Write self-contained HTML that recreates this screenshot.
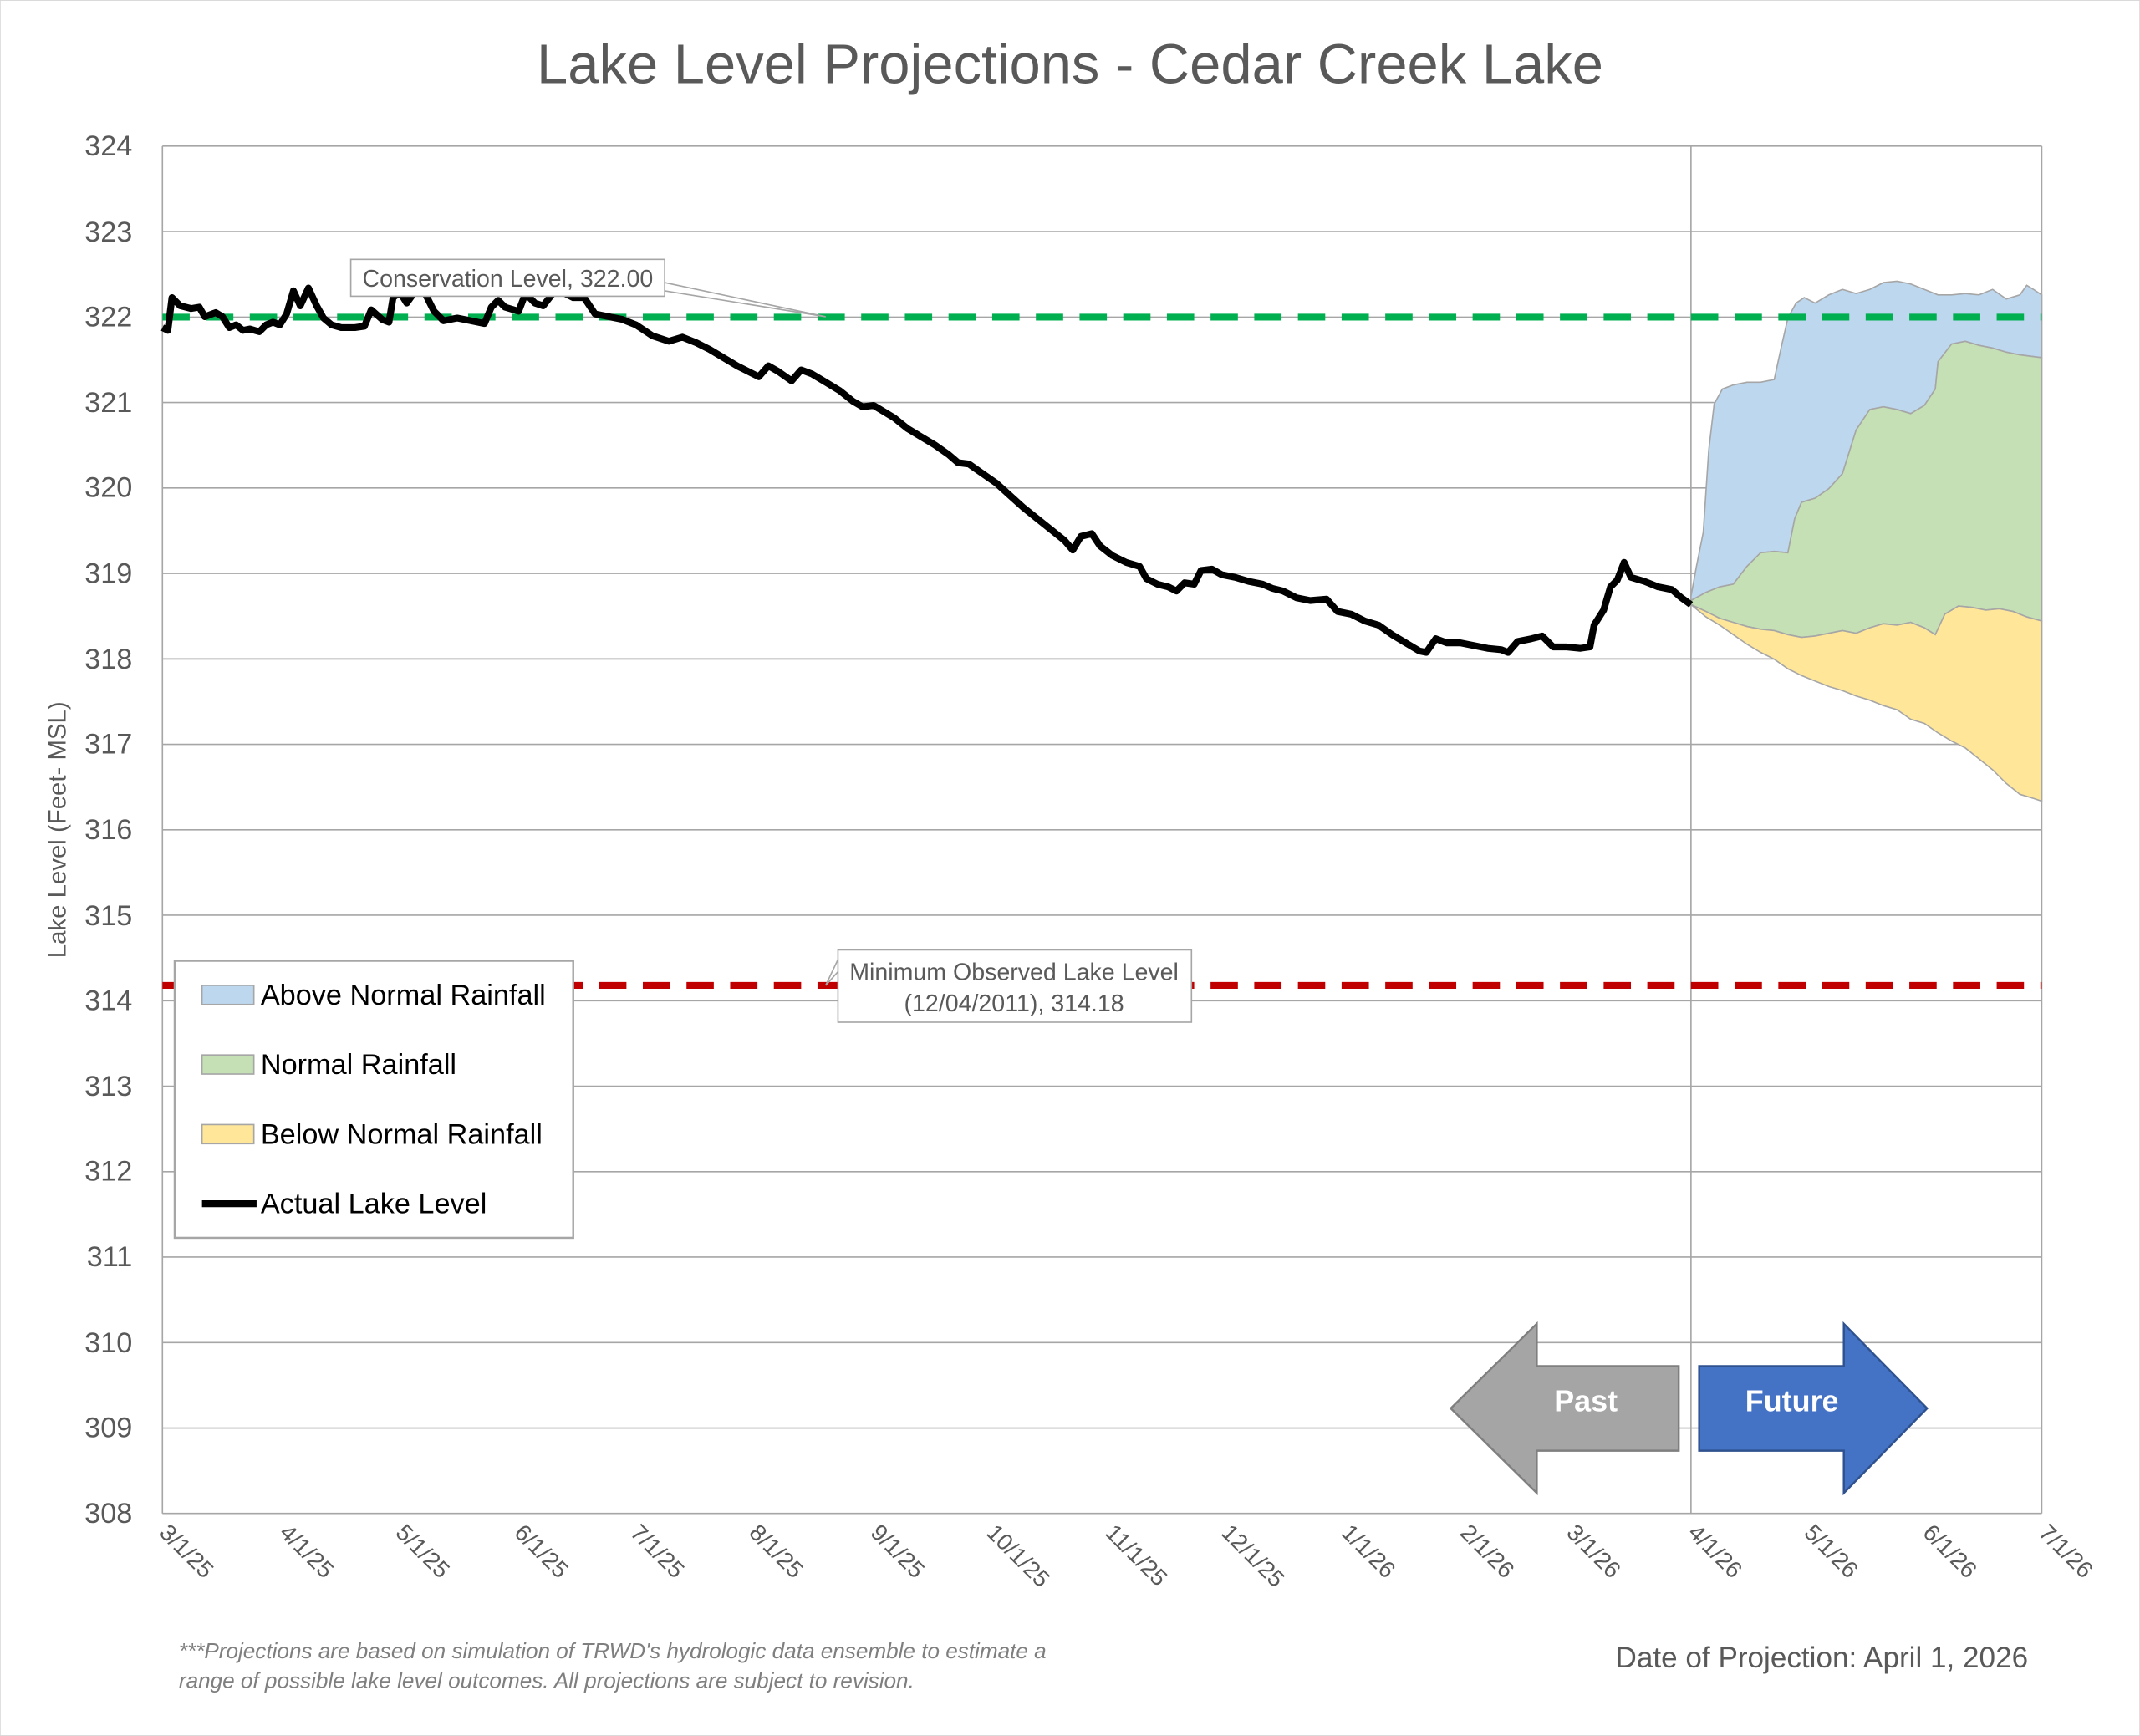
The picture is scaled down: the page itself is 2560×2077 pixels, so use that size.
<!DOCTYPE html>
<html><head><meta charset="utf-8"><style>
html,body{margin:0;padding:0;background:#fff}
svg{display:block}
text{font-family:"Liberation Sans",sans-serif}
</style></head><body>
<svg width="2560" height="2077" viewBox="0 0 1568 1272" xmlns="http://www.w3.org/2000/svg">
<rect x="0" y="0" width="1568" height="1272" fill="#fff" stroke="#d9d9d9" stroke-width="1"/>
<text x="784" y="61" text-anchor="middle" font-size="41" fill="#595959">Lake Level Projections - Cedar Creek Lake</text>
<g stroke="#a6a6a6" stroke-width="1">
<line x1="119" y1="107" x2="1496" y2="107"/><line x1="119" y1="169.6" x2="1496" y2="169.6"/><line x1="119" y1="232.3" x2="1496" y2="232.3"/><line x1="119" y1="294.9" x2="1496" y2="294.9"/><line x1="119" y1="357.5" x2="1496" y2="357.5"/><line x1="119" y1="420.1" x2="1496" y2="420.1"/><line x1="119" y1="482.8" x2="1496" y2="482.8"/><line x1="119" y1="545.4" x2="1496" y2="545.4"/><line x1="119" y1="608" x2="1496" y2="608"/><line x1="119" y1="670.6" x2="1496" y2="670.6"/><line x1="119" y1="733.3" x2="1496" y2="733.3"/><line x1="119" y1="795.9" x2="1496" y2="795.9"/><line x1="119" y1="858.5" x2="1496" y2="858.5"/><line x1="119" y1="921.1" x2="1496" y2="921.1"/><line x1="119" y1="983.8" x2="1496" y2="983.8"/><line x1="119" y1="1046.4" x2="1496" y2="1046.4"/><line x1="119" y1="1109" x2="1496" y2="1109"/>
<line x1="119" y1="107" x2="119" y2="1109"/><line x1="1496" y1="107" x2="1496" y2="1109"/><line x1="1239" y1="107" x2="1239" y2="1109"/>
</g>
<g font-size="21" fill="#595959" text-anchor="end">
<text x="97" y="114">324</text><text x="97" y="177">323</text><text x="97" y="239">322</text><text x="97" y="302">321</text><text x="97" y="364">320</text><text x="97" y="427">319</text><text x="97" y="490">318</text><text x="97" y="552">317</text><text x="97" y="615">316</text><text x="97" y="678">315</text><text x="97" y="740">314</text><text x="97" y="803">313</text><text x="97" y="865">312</text><text x="97" y="928">311</text><text x="97" y="991">310</text><text x="97" y="1053">309</text><text x="97" y="1116">308</text>
</g>
<text transform="translate(48,608) rotate(-90)" text-anchor="middle" font-size="18" fill="#595959">Lake Level (Feet- MSL)</text>
<g font-size="17" fill="#595959">
<text transform="translate(116,1124) rotate(45)">3/1/25</text>
<text transform="translate(204,1124) rotate(45)">4/1/25</text>
<text transform="translate(289,1124) rotate(45)">5/1/25</text>
<text transform="translate(376,1124) rotate(45)">6/1/25</text>
<text transform="translate(461,1124) rotate(45)">7/1/25</text>
<text transform="translate(548,1124) rotate(45)">8/1/25</text>
<text transform="translate(637,1124) rotate(45)">9/1/25</text>
<text transform="translate(722,1124) rotate(45)">10/1/25</text>
<text transform="translate(809,1124) rotate(45)">11/1/25</text>
<text transform="translate(894,1124) rotate(45)">12/1/25</text>
<text transform="translate(982,1124) rotate(45)">1/1/26</text>
<text transform="translate(1069,1124) rotate(45)">2/1/26</text>
<text transform="translate(1147,1124) rotate(45)">3/1/26</text>
<text transform="translate(1236,1124) rotate(45)">4/1/26</text>
<text transform="translate(1321,1124) rotate(45)">5/1/26</text>
<text transform="translate(1408,1124) rotate(45)">6/1/26</text>
<text transform="translate(1493,1124) rotate(45)">7/1/26</text>
</g>
<polygon fill="#bdd7ee" stroke="#a6a6a6" stroke-width="1" points="1239,437 1243,415 1248,390 1252,330 1256,296 1262,285 1270,282 1280,280 1290,280 1300,278 1305,255 1310,233 1316,222 1322,218 1330,222 1340,216 1350,212 1360,215 1370,212 1380,207 1390,206 1400,208 1410,212 1420,216 1430,216 1440,215 1450,216 1460,212 1470,219 1480,216 1485,209 1490,212 1496,216 1496,262 1480,260 1470,258 1460,255 1450,253 1440,250 1430,252 1420,265 1418,285 1410,297 1400,303 1390,300 1380,298 1370,300 1360,315 1350,347 1340,358 1330,365 1320,368 1315,380 1310,405 1300,404 1290,405 1280,415 1270,428 1260,430 1250,434 1239,440"/>
<polygon fill="#c5e0b4" stroke="#a6a6a6" stroke-width="1" points="1239,440 1250,434 1260,430 1270,428 1280,415 1290,405 1300,404 1310,405 1315,380 1320,368 1330,365 1340,358 1350,347 1360,315 1370,300 1380,298 1390,300 1400,303 1410,297 1418,285 1420,265 1430,252 1440,250 1450,253 1460,255 1470,258 1480,260 1496,262 1496,455 1485,452 1475,448 1465,446 1455,447 1445,445 1435,444 1425,450 1418,465 1410,460 1400,456 1390,458 1380,457 1370,460 1360,464 1350,462 1340,464 1330,466 1320,467 1310,465 1300,462 1290,461 1280,459 1270,456 1260,453 1250,448 1239,443"/>
<polygon fill="#ffe699" stroke="#a6a6a6" stroke-width="1" points="1239,443 1250,448 1260,453 1270,456 1280,459 1290,461 1300,462 1310,465 1320,467 1330,466 1340,464 1350,462 1360,464 1370,460 1380,457 1390,458 1400,456 1410,460 1418,465 1425,450 1435,444 1445,445 1455,447 1465,446 1475,448 1485,452 1496,455 1496,587 1490,585 1480,582 1470,574 1460,564 1450,556 1440,548 1430,543 1420,537 1410,530 1400,527 1390,520 1380,517 1370,513 1360,510 1350,506 1340,503 1330,499 1320,495 1310,490 1300,483 1290,478 1280,472 1270,465 1260,458 1250,452 1239,443"/>
<line x1="119" y1="232.3" x2="1496" y2="232.3" stroke="#00b050" stroke-width="5" stroke-dasharray="20,12"/>
<line x1="119" y1="722" x2="1496" y2="722" stroke="#c00000" stroke-width="5" stroke-dasharray="20,12"/>
<polyline fill="none" stroke="#000" stroke-width="5" stroke-linejoin="round" points="119,240 123,242 126,218 132,224 140,226 146,225 150,232 158,229 163,232 168,240 173,238 178,242 183,241 190,243 195,238 200,236 205,238 210,230 215,213 220,224 226,211 232,224 237,233 243,238 250,240 260,240 267,239 272,227 280,234 285,236 288,218 293,214 298,222 303,215 310,212 318,228 325,235 335,233 345,235 355,237 360,225 365,220 370,225 380,228 385,215 392,222 398,224 405,215 410,213 420,218 428,218 436,230 446,232 456,234 466,238 478,246 490,250 500,247 510,251 520,256 530,262 540,268 550,273 556,276 563,268 570,272 580,279 587,271 595,274 605,280 615,286 625,294 632,298 640,297 645,300 655,306 665,314 675,320 685,326 695,333 702,339 710,340 720,347 730,354 740,363 750,372 760,380 770,388 780,396 786,403 792,393 800,391 806,400 815,407 825,412 835,415 840,424 848,428 856,430 862,433 868,427 875,428 880,418 888,417 895,421 905,423 915,426 925,428 932,431 940,433 950,438 960,440 972,439 980,448 990,450 1000,455 1010,458 1020,465 1030,471 1040,477 1045,478 1052,468 1060,471 1070,471 1080,473 1090,475 1100,476 1105,478 1112,470 1122,468 1130,466 1138,474 1148,474 1158,475 1165,474 1168,458 1175,447 1180,430 1185,425 1190,412 1195,423 1205,426 1215,430 1225,432 1232,438 1239,443"/>
<polyline points="487,207 605,232 487,213" fill="#fff" stroke="#a6a6a6" stroke-width="1"/>
<rect x="257" y="190" width="230" height="27" fill="#fff" stroke="#a6a6a6" stroke-width="1"/>
<text x="372" y="210" text-anchor="middle" font-size="17.5" fill="#595959">Conservation Level, 322.00</text>
<polyline points="614,703 605,722 614,712" fill="#fff" stroke="#a6a6a6" stroke-width="1"/>
<rect x="614" y="696" width="259" height="53" fill="#fff" stroke="#a6a6a6" stroke-width="1"/>
<text x="743" y="718" text-anchor="middle" font-size="17.5" fill="#595959">Minimum Observed Lake Level</text>
<text x="743" y="741" text-anchor="middle" font-size="17.5" fill="#595959">(12/04/2011), 314.18</text>
<rect x="128" y="704" width="292" height="203" fill="#fff" stroke="#a6a6a6" stroke-width="1.5"/>
<rect x="148" y="722" width="38" height="14" fill="#bdd7ee" stroke="#a6a6a6"/>
<rect x="148" y="773" width="38" height="14" fill="#c5e0b4" stroke="#a6a6a6"/>
<rect x="148" y="824" width="38" height="14" fill="#ffe699" stroke="#a6a6a6"/>
<line x1="148" y1="882" x2="188" y2="882" stroke="#000" stroke-width="5"/>
<g font-size="21" fill="#000">
<text x="191" y="736">Above Normal Rainfall</text>
<text x="191" y="787">Normal Rainfall</text>
<text x="191" y="838">Below Normal Rainfall</text>
<text x="191" y="889">Actual Lake Level</text>
</g>
<polygon points="1063,1032 1126,970 1126,1001 1230,1001 1230,1063 1126,1063 1126,1094" fill="#a5a5a5" stroke="#7f7f7f" stroke-width="1.5"/>
<text x="1162" y="1034" text-anchor="middle" font-size="22" font-weight="bold" fill="#fff">Past</text>
<polygon points="1245,1001 1351,1001 1351,970 1412,1032 1351,1094 1351,1063 1245,1063" fill="#4472c4" stroke="#2f528f" stroke-width="1.5"/>
<text x="1313" y="1034" text-anchor="middle" font-size="22" font-weight="bold" fill="#fff">Future</text>
<text x="131" y="1215" font-size="16" font-style="italic" fill="#7f7f7f">***Projections are based on simulation of TRWD's hydrologic data ensemble to estimate a</text>
<text x="131" y="1237" font-size="16" font-style="italic" fill="#7f7f7f">range of possible lake level outcomes.  All projections are subject to revision.</text>
<text x="1486" y="1222" text-anchor="end" font-size="21.5" fill="#595959">Date of Projection: April 1, 2026</text>
</svg>
</body></html>
